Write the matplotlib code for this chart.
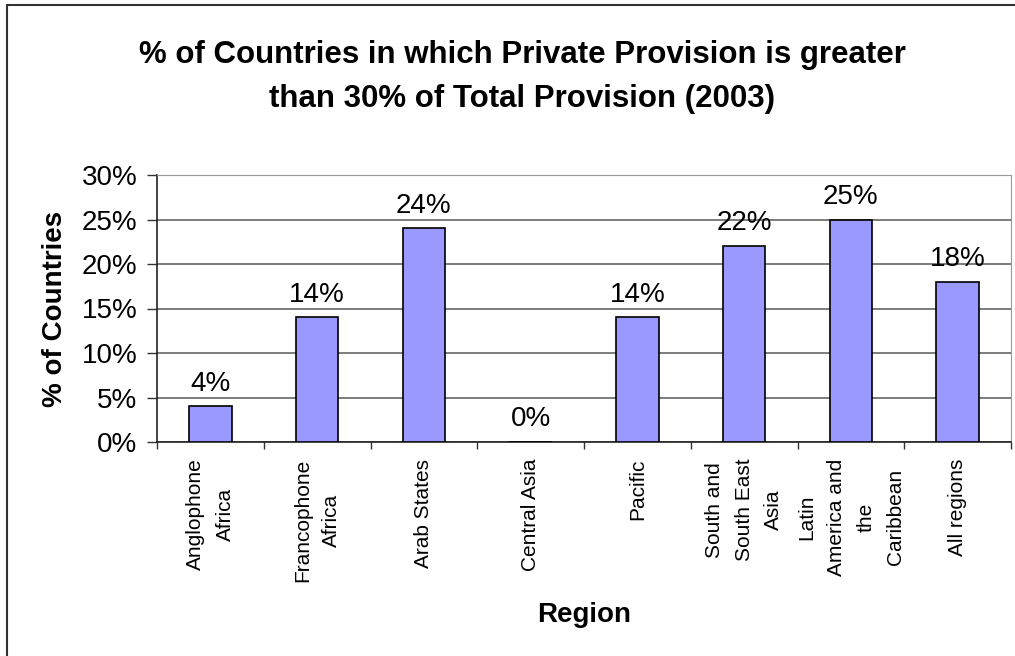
import matplotlib
matplotlib.use("Agg")
import matplotlib.pyplot as plt
from matplotlib.patches import Rectangle
from matplotlib.ticker import FuncFormatter, FixedLocator

plt.rcParams['font.family'] = ['Liberation Sans', 'DejaVu Sans']

categories = ["Anglophone\nAfrica", "Francophone\nAfrica", "Arab States", "Central Asia",
              "Pacific", "South and\nSouth East\nAsia", "Latin\nAmerica and\nthe\nCaribbean",
              "All regions"]
values = [4, 14, 24, 0, 14, 22, 25, 18]
labels = ["4%", "14%", "24%", "0%", "14%", "22%", "25%", "18%"]
yticks = [0, 5, 10, 15, 20, 25, 30]

W, H = 1015, 656
fig = plt.figure(figsize=(W / 100, H / 100), dpi=100)

# outer frame
fig.patches.append(Rectangle((7 / W, -0.1), 1.2, (651 + 65.6) / H, transform=fig.transFigure,
                             fill=False, edgecolor="#333333", linewidth=1.5, zorder=0))

ax = fig.add_axes([157 / W, (H - 442) / H, 854 / W, 267 / H])
x = list(range(len(categories)))
ax.bar(x, values, width=0.4, color="#9999FF", edgecolor="#000000", linewidth=1.2, zorder=3)
ax.set_xlim(-0.5, len(categories) - 0.5)
ax.set_ylim(0, 30)
ax.set_yticks(yticks)
ax.yaxis.set_major_formatter(FuncFormatter(lambda v, p: f"{v:.0f}%"))
ax.yaxis.grid(True, color="#666666", linewidth=1.2, zorder=0)
for s in ["top", "right"]:
    ax.spines[s].set_color("#999999")
for s in ["left", "bottom"]:
    ax.spines[s].set_color("#222222")
    ax.spines[s].set_linewidth(1.2)
ax.tick_params(axis="y", labelsize=20, length=7, width=1.0, pad=7, color="#333333")

ax.set_xticks(x)
ax.set_xticklabels(categories, rotation=90, fontsize=15, va="top", ha="center",
                   multialignment="center", linespacing=1.7)
ax.tick_params(axis="x", length=0, pad=12)
ax.xaxis.set_minor_locator(FixedLocator([i - 0.5 for i in range(len(categories) + 1)]))
ax.tick_params(axis="x", which="minor", length=5, width=1.0, color="#333333")

for xi, v, lab in zip(x, values, labels):
    ax.annotate(lab, (xi, v), xytext=(0, 7), textcoords="offset points",
                ha="center", va="bottom", fontsize=20)

fig.text(522 / W, 1 - 77 / H, "% of Countries in which Private Provision is greater\nthan 30% of Total Provision (2003)",
         ha="center", va="center", fontsize=22.5, fontweight="bold", linespacing=1.6)
fig.text(55 / W, 1 - 309 / H, "% of Countries", rotation=90, ha="center", va="center",
         fontsize=20, fontweight="bold")
fig.text(584 / W, 1 - 615 / H, "Region", ha="center", va="center", fontsize=20, fontweight="bold")

fig.savefig("out.png", dpi=100)
